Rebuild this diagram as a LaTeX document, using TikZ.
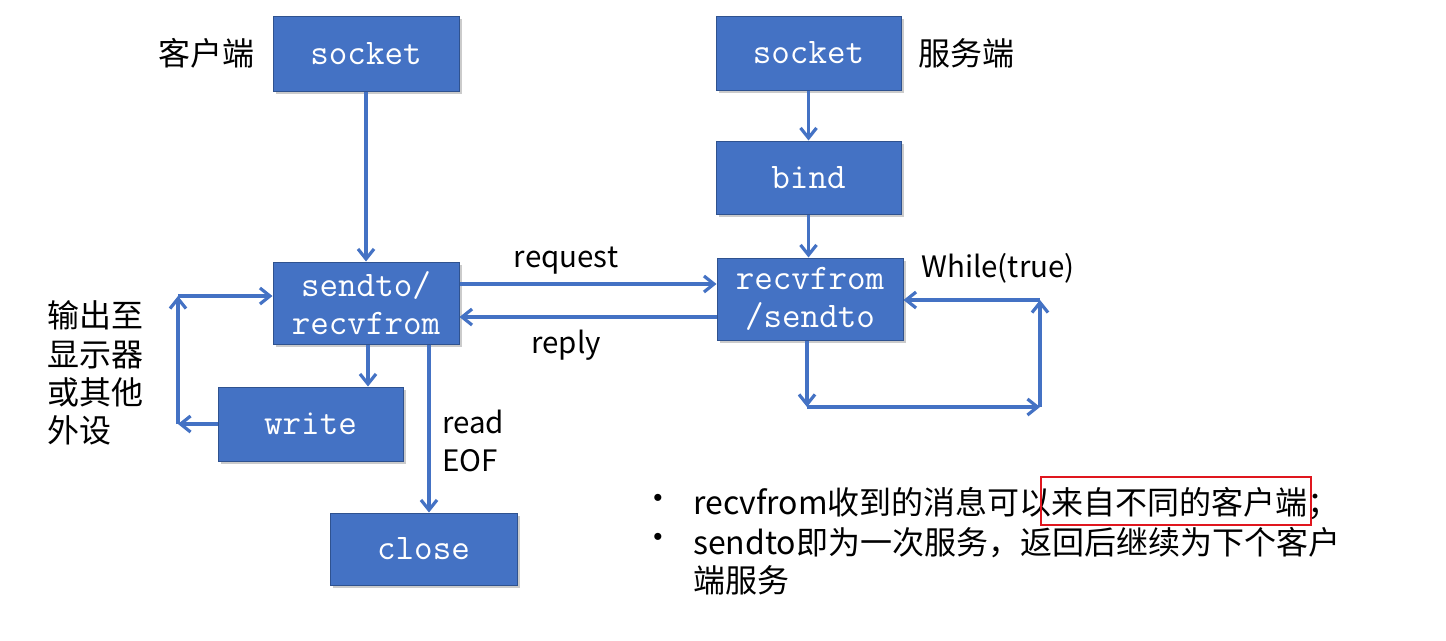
\documentclass[tikz,border=0pt]{standalone}
\usepackage{fontspec}
\setmainfont{Noto Sans CJK SC}
\newfontfamily\bulletfont{Liberation Sans}
\usetikzlibrary{arrows.meta,shadows,calc}
\definecolor{boxblue}{HTML}{4472C4}
\definecolor{boxborder}{HTML}{2F528F}
\definecolor{arrowblue}{HTML}{4472C4}
\definecolor{hlred}{HTML}{E0161E}
\begin{document}
\begin{tikzpicture}[x=1pt,y=-1pt,
  box/.style={draw=boxborder, line width=1pt, fill=boxblue, text=white,
    font=\ttfamily\fontsize{36}{38}\selectfont, align=center, inner sep=0pt,
    drop shadow={shadow xshift=3pt, shadow yshift=-3pt, fill=black!45, opacity=0.45}},
  flow/.style={draw=arrowblue, line width=3.2pt,
    -{Straight Barb[length=10pt,width=16pt,line width=3.2pt]}},
  lbl/.style={font=\fontsize{32}{38.5}\selectfont, text=black, inner sep=0pt},
  lat/.style={font=\fontsize{29.5}{36}\selectfont, text=black, inner sep=0pt},
  hlbox/.style={draw=hlred, line width=2pt, inner sep=0pt}
]
\useasboundingbox (0,0) rectangle (1446,640);

% boxes
\node[box, minimum width=186pt, minimum height=75pt] (sockL) at (366,53.5) {socket};
\node[box, minimum width=185pt, minimum height=74pt] (sockR) at (808.5,53) {socket};
\node[box, minimum width=185pt, minimum height=73pt] (bind) at (808.5,177.5) {bind};
\node[box, minimum width=186pt, minimum height=82pt] (sendL) at (366,303) {sendto/\\recvfrom};
\node[box, minimum width=186pt, minimum height=82pt] (recvR) at (810,299) {recvfrom\\/sendto};
\node[box, minimum width=185pt, minimum height=74pt] (write) at (310.5,424) {write};
\node[box, minimum width=187pt, minimum height=72pt] (close) at (423.5,549) {close};

% labels
\node[lbl, anchor=base] (lblC) at (206,65) {客户端};
\node[lbl, anchor=base] (lblS) at (966,65) {服务端};
\node[lat, anchor=base] (lblReq) at (566,267) {request};
\node[lat, anchor=base] (lblRep) at (566,353) {reply};
\node[lat, anchor=base] (lblWhile) at (998,277) {While(true)};
\node[lat, anchor=base west] (lblRead) at (442,433) {read};
\node[lat, anchor=base west] (lblEOF) at (442,471) {EOF};
\node[lbl, anchor=base west] (out1) at (47,327) {输出至};
\node[lbl, anchor=base west] (out2) at (47,366) {显示器};
\node[lbl, anchor=base west] (out3) at (47,404) {或其他};
\node[lbl, anchor=base west] (out4) at (47,442) {外设};

% bullets
\node[lbl, anchor=center, font=\bulletfont\fontsize{26}{30}\selectfont] (b1) at (658,500) {•};
\node[lbl, anchor=center, font=\bulletfont\fontsize{26}{30}\selectfont] (b2) at (658,539) {•};
\node[lbl, anchor=base west] (t1) at (693,514) {recvfrom收到的消息可以来自不同的客户端；};
\node[lbl, anchor=base west] (t2) at (693,554) {sendto即为一次服务，返回后继续为下个客户};
\node[lbl, anchor=base west] (t3) at (693,592) {端服务};
\node[hlbox, minimum width=270pt, minimum height=48pt] (hl) at (1176,501) {};

% connectors
\draw[flow] (sockL.south) -- (sendL.north);
\draw[flow] (sockR.south) -- (bind.north);
\draw[flow] (bind.south) -- (bind.south |- recvR.north);
\draw[flow] ($(sendL.east)+(0,-19)$) -- ($(recvR.west)+(0,-15)$);
\draw[flow] ($(recvR.west)+(0,18)$) -- ($(sendL.east)+(0,14)$);
\draw[flow] ($(sendL.south)+(2,0)$) coordinate (sw) -- (sw |- write.north);

\coordinate (lb) at (178,424);
\coordinate (lt) at (178,296);
\draw[flow] (write.west) -- (lb);
\draw[flow] (lb) -- (lt);
\draw[flow] (lt) -- (lt -| sendL.west);

\draw[flow] ($(sendL.south)+(63,0)$) coordinate (sc) -- (sc |- close.north);

\coordinate (r1) at (807,407);
\coordinate (r2) at (1040,407);
\coordinate (r3) at (1040,300);
\draw[flow] (recvR.south -| r1) -- (r1);
\draw[flow] (r1) -- (r2);
\draw[flow] (r2) -- (r3);
\draw[flow] (r3) -- (r3 -| recvR.east);
\end{tikzpicture}
\end{document}
